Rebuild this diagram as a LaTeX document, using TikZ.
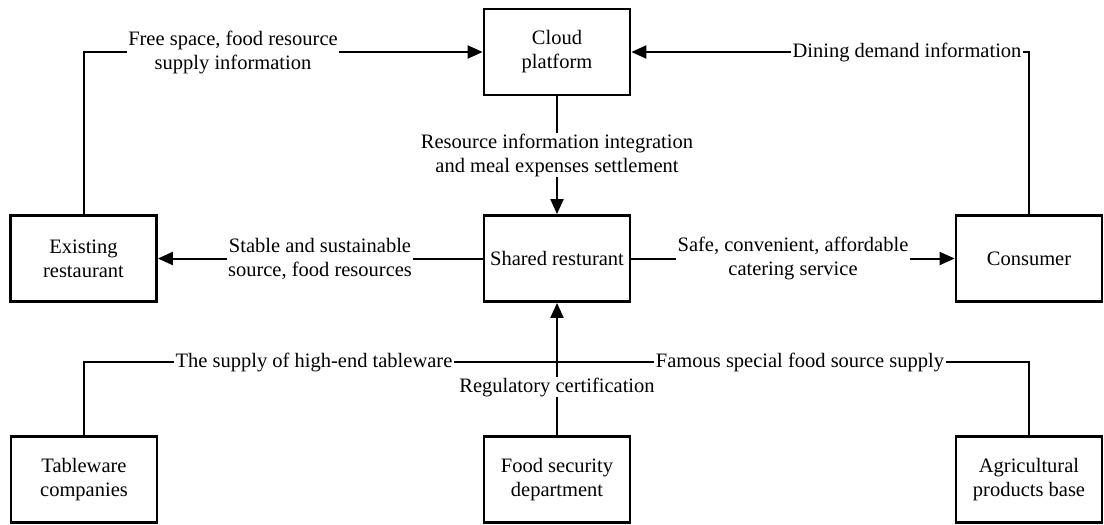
\documentclass[tikz,border=0pt]{standalone}
\usepackage{fontspec}
\setmainfont{Liberation Serif}
\usetikzlibrary{arrows.meta}
\begin{document}
\begin{tikzpicture}[x=1pt,y=-1pt,
 box/.style={draw, line width=2.8pt, minimum width=146pt, minimum height=86pt, align=center, inner sep=0pt, font=\fontsize{20.5}{24}\selectfont},
 lbl/.style={fill=white, align=center, inner xsep=1.5pt, inner ysep=1pt, font=\fontsize{20.5}{24}\selectfont},
 conn/.style={line width=2pt},
 arr/.style={conn, -{Triangle[length=15pt,width=13pt]}}]
\useasboundingbox (0,0) rectangle (1104,525);
\node[box] (cloud) at (557,52) {Cloud\\platform};
\node[box] (exist) at (83.5,258.5) {Existing\\restaurant};
\node[box] (shared) at (557,258.5) {Shared resturant};
\node[box] (cons) at (1029,258.5) {Consumer};
\node[box] (table) at (84,479.5) {Tableware\\companies};
\node[box] (food) at (557,479.5) {Food security\\department};
\node[box] (agri) at (1029,479.5) {Agricultural\\products base};
\draw[arr] (exist.north) |- (cloud.west);
\draw[arr] (cons.north) |- (cloud.east);
\draw[arr] (cloud.south) -- (shared.north);
\draw[arr] (shared.west) -- (exist.east);
\draw[arr] (shared.east) -- (cons.west);
\coordinate (j) at (557,362);
\draw[conn] (table.north) |- (j);
\draw[conn] (agri.north) |- (j);
\draw[arr] (food.north) -- (shared.south);
\node[lbl] (l1) at (233,52) {Free space, food resource\\supply information};
\node[lbl] (l2) at (907,52) {Dining demand information};
\node[lbl] (l3) at (557,155) {Resource information integration\\and meal expenses settlement};
\node[lbl] (l4) at (320,258.5) {Stable and sustainable\\source, food resources};
\node[lbl] (l5) at (793,258.5) {Safe, convenient, affordable\\catering service};
\node[lbl] (l6) at (557,387) {Regulatory certification};
\node[lbl] (l7) at (314,362) {The supply of high-end tableware};
\node[lbl] (l8) at (800,362) {Famous special food source supply};
\end{tikzpicture}
\end{document}
